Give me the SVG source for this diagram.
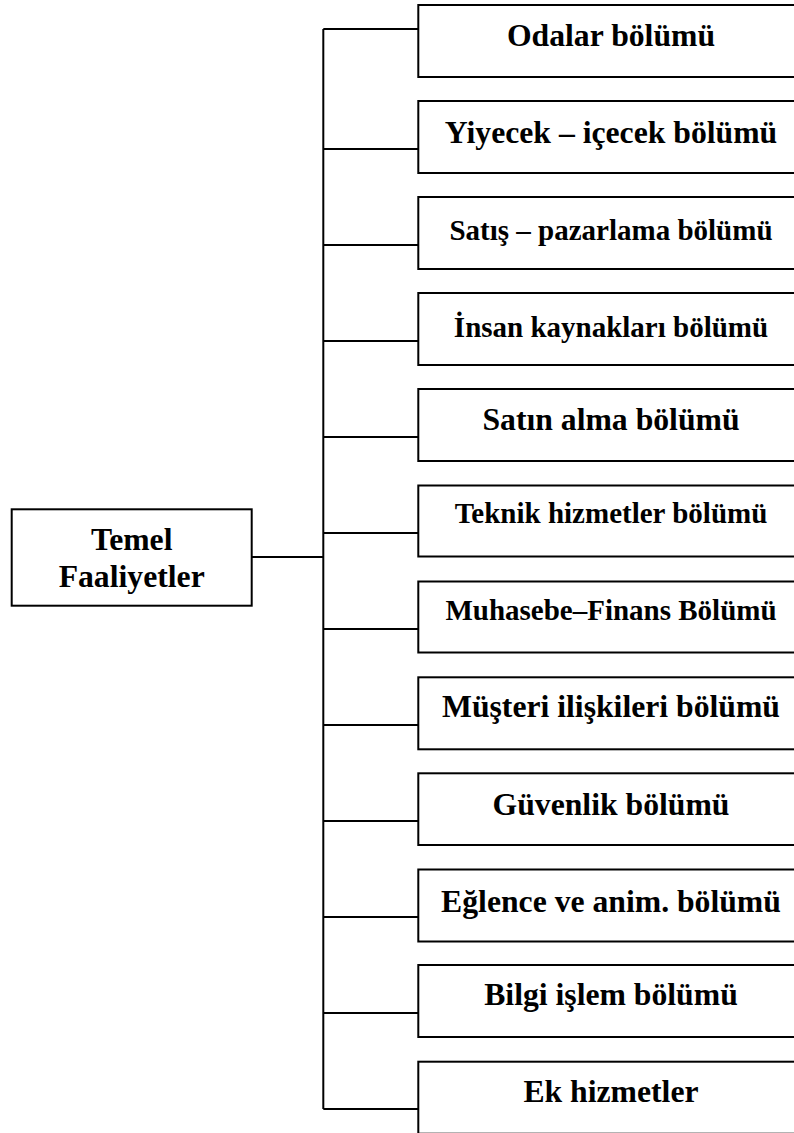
<svg xmlns="http://www.w3.org/2000/svg" width="794" height="1133" viewBox="0 0 794 1133">
  <style>
    .box { fill: #ffffff; stroke: #000000; stroke-width: 2; }
    .link { fill: none; stroke: #000000; stroke-width: 2; }
    .lbl { font-family: "Liberation Serif", "Times New Roman", serif; font-weight: bold; font-size: 31.7px; fill: #000000; text-anchor: middle; }
    .sm { font-size: 29px; }
  </style>
  <rect width="794" height="1133" fill="#ffffff"/>

  <!-- connectors: trunk, root link and branches -->
  <g id="connectors">
    <line class="link" x1="323.3" y1="29" x2="323.3" y2="1109"/>
    <line class="link" x1="251.7" y1="557" x2="323.3" y2="557"/>
    <line class="link" x1="323.3" y1="29" x2="418.3" y2="29"/>
    <line class="link" x1="323.3" y1="149" x2="418.3" y2="149"/>
    <line class="link" x1="323.3" y1="245" x2="418.3" y2="245"/>
    <line class="link" x1="323.3" y1="341" x2="418.3" y2="341"/>
    <line class="link" x1="323.3" y1="437" x2="418.3" y2="437"/>
    <line class="link" x1="323.3" y1="533" x2="418.3" y2="533"/>
    <line class="link" x1="323.3" y1="629" x2="418.3" y2="629"/>
    <line class="link" x1="323.3" y1="725" x2="418.3" y2="725"/>
    <line class="link" x1="323.3" y1="821" x2="418.3" y2="821"/>
    <line class="link" x1="323.3" y1="917" x2="418.3" y2="917"/>
    <line class="link" x1="323.3" y1="1013" x2="418.3" y2="1013"/>
    <line class="link" x1="323.3" y1="1109" x2="418.3" y2="1109"/>
  </g>

  <g id="root">
    <rect class="box" x="11.7" y="509.3" width="240" height="96.4"/>
    <text class="lbl" x="131.7" y="550">Temel</text>
    <text class="lbl" x="131.7" y="586.7">Faaliyetler</text>
  </g>

  <g id="n-odalar">
    <rect class="box" x="418.3" y="5" width="400" height="72"/>
    <text class="lbl" x="611" y="46">Odalar bölümü</text>
  </g>
  <g id="n-yiyecek">
    <rect class="box" x="418.3" y="101" width="400" height="72"/>
    <text class="lbl" x="611" y="143.3">Yiyecek – içecek bölümü</text>
  </g>
  <g id="n-satis">
    <rect class="box" x="418.3" y="197" width="400" height="72"/>
    <text class="lbl sm" x="611" y="240">Satış – pazarlama bölümü</text>
  </g>
  <g id="n-insan">
    <rect class="box" x="418.3" y="293" width="400" height="72"/>
    <text class="lbl sm" x="611" y="336.7">İnsan kaynakları bölümü</text>
  </g>
  <g id="n-satinalma">
    <rect class="box" x="418.3" y="389" width="400" height="72"/>
    <text class="lbl" x="611" y="430">Satın alma bölümü</text>
  </g>
  <g id="n-teknik">
    <rect class="box" x="418.3" y="485.5" width="400" height="71"/>
    <text class="lbl sm" x="611" y="523.3">Teknik hizmetler bölümü</text>
  </g>
  <g id="n-muhasebe">
    <rect class="box" x="418.3" y="581.5" width="400" height="71"/>
    <text class="lbl sm" x="611" y="620">Muhasebe–Finans Bölümü</text>
  </g>
  <g id="n-musteri">
    <rect class="box" x="418.3" y="677.3" width="400" height="72"/>
    <text class="lbl" x="611" y="716.7">Müşteri ilişkileri bölümü</text>
  </g>
  <g id="n-guvenlik">
    <rect class="box" x="418.3" y="773.3" width="400" height="71.7"/>
    <text class="lbl" x="611" y="815">Güvenlik bölümü</text>
  </g>
  <g id="n-eglence">
    <rect class="box" x="418.3" y="869.5" width="400" height="72"/>
    <text class="lbl" x="611" y="911.7">Eğlence ve anim. bölümü</text>
  </g>
  <g id="n-bilgi">
    <rect class="box" x="418.3" y="965" width="400" height="72"/>
    <text class="lbl" x="611" y="1005">Bilgi işlem bölümü</text>
  </g>
  <g id="n-ek">
    <rect class="box" x="418.3" y="1061.7" width="400" height="72"/>
    <text class="lbl" x="611" y="1101.7">Ek hizmetler</text>
  </g>
</svg>
